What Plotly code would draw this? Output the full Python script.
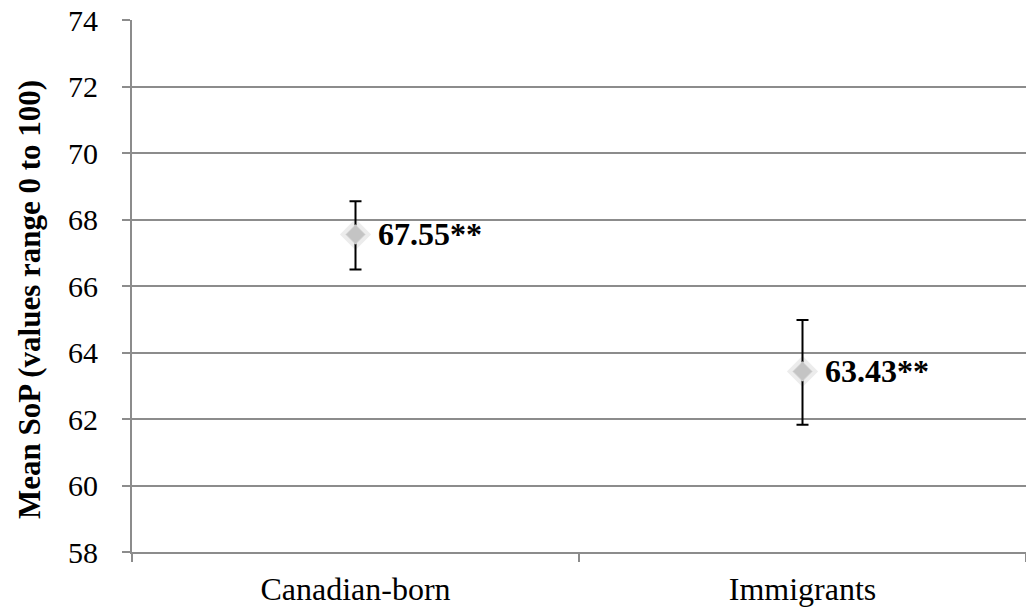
import plotly.graph_objects as go

# Mean sense-of-place scores with error margins
groups = ["Canadian-born", "Immigrants"]
means = [67.55, 63.43]
err_plus = [1.0, 1.55]
err_minus = [1.05, 1.6]
labels = ["67.55**", "63.43**"]

y_ticks = [58, 60, 62, 64, 66, 68, 70, 72, 74]
y_title = "Mean SoP (values range 0 to 100)"

serif = "Liberation Serif, Times New Roman, serif"
grid = "#8c8c8c"

fig = go.Figure()

# soft halo behind each marker
fig.add_trace(go.Scatter(
    x=groups, y=means, mode="markers",
    marker=dict(symbol="diamond", size=24, color="rgba(170,170,170,0.22)", line=dict(width=0)),
    hoverinfo="skip", showlegend=False,
))

fig.add_trace(go.Scatter(
    x=groups, y=means, mode="markers",
    marker=dict(symbol="diamond", size=15, color="#c4c4c4",
                line=dict(width=1, color="#dcdcdc")),
    error_y=dict(type="data", symmetric=False, array=err_plus, arrayminus=err_minus,
                 color="black", thickness=2, width=6),
    showlegend=False,
))

for g, m, t in zip(groups, means, labels):
    fig.add_annotation(
        x=g, y=m, text=f"<b>{t}</b>", showarrow=False,
        xanchor="left", yanchor="middle", xshift=20, yshift=0,
        font=dict(family=serif, size=32, color="black"),
    )

# vertical axis title, set a little below the middle of the plot
fig.add_annotation(
    xref="paper", yref="paper", x=0, y=0.5, xshift=-103, yshift=-14,
    text=f"<b>{y_title}</b>", textangle=-90, showarrow=False,
    xanchor="center", yanchor="middle",
    font=dict(family=serif, size=31, color="black"),
)

fig.update_layout(
    width=1026, height=609,
    margin=dict(l=132, r=0, t=20, b=57),
    paper_bgcolor="white", plot_bgcolor="white",
    font=dict(family=serif, color="black"),
)

fig.update_xaxes(
    type="category", range=[-0.5, 1.5],
    tickson="boundaries", ticks="outside", ticklen=8, tickcolor=grid, tickwidth=2,
    ticklabelstandoff=8,
    showgrid=False, showline=True, linecolor=grid, linewidth=2,
    tickfont=dict(family=serif, size=32, color="black"),
)

fig.update_yaxes(
    range=[58, 74], tickvals=y_ticks,
    ticks="outside", ticklen=8, tickcolor=grid, tickwidth=2,
    ticklabelstandoff=18,
    showgrid=True, gridcolor=grid, gridwidth=2,
    showline=True, linecolor=grid, linewidth=2,
    zeroline=False,
    tickfont=dict(family=serif, size=30, color="black"),
)

fig.write_html("out.html")
